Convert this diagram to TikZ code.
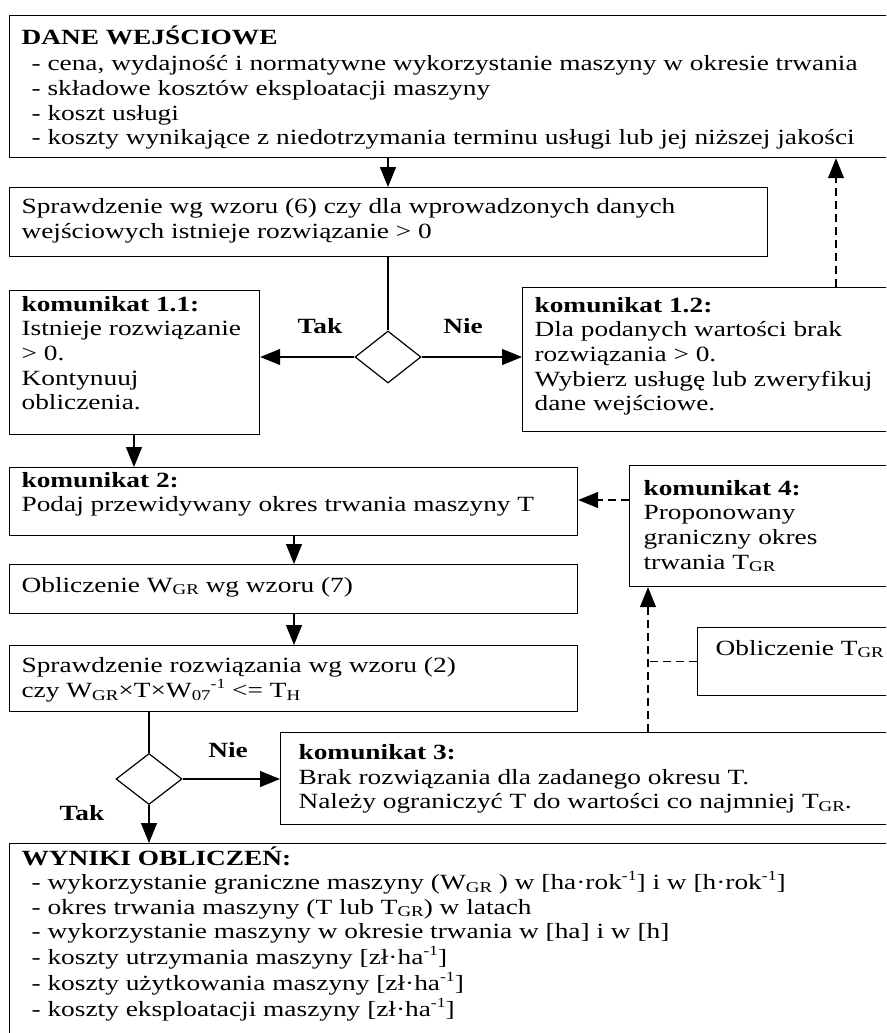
\documentclass[tikz,border=0pt]{standalone}
\usepackage{fontspec}
\setmainfont{Liberation Serif}
\usepackage{graphicx}
\usetikzlibrary{arrows.meta,shapes.geometric}
\newcommand{\tx}[1]{\scalebox{1.26}[1]{\begin{tabular}[t]{@{}l@{}}#1\end{tabular}}}
\newcommand{\lo}[1]{\raisebox{-0.12em}{\fontsize{15}{15}\selectfont #1}}
\newcommand{\hi}[1]{\raisebox{0.42em}{\fontsize{14}{14}\selectfont #1}}
\begin{document}
\begin{tikzpicture}[x=1pt,y=-1pt, line width=1.2pt,
 box/.style={draw, rectangle, inner sep=0, anchor=north west, line width=1.2pt},
 txt/.style={inner sep=0, anchor=base west, font=\fontsize{21.7}{24.7}\selectfont},
 lbl/.style={inner sep=0, anchor=base, font=\fontsize{21.7}{24.7}\selectfont\bfseries},
 dia/.style={draw, diamond, inner sep=0, line width=1.2pt},
 arr/.style={-{Triangle[length=20pt,width=16pt]}},
 dsh/.style={dash pattern=on 8pt off 5pt},
 darr/.style={arr, dsh}]
\useasboundingbox (0,0) rectangle (886,1033);
\fill[white] (0,0) rectangle (886,1033);
\clip (0,0) rectangle (886,1033);

% boxes
\node[box, minimum width=886pt, minimum height=142pt] (dane) at (9,15) {};
\node[box, minimum width=758pt, minimum height=69pt] (spr1) at (9,187) {};
\node[box, minimum width=250pt, minimum height=144pt] (k11) at (9,290) {};
\node[box, minimum width=373pt, minimum height=144pt] (k12) at (522,287) {};
\node[box, minimum width=568pt, minimum height=68pt] (k2) at (9,467) {};
\node[box, minimum width=266pt, minimum height=121pt] (k4) at (629,465) {};
\node[box, minimum width=568pt, minimum height=49pt] (oW) at (9,564) {};
\node[box, minimum width=198pt, minimum height=68pt] (oT) at (697,627) {};
\node[box, minimum width=568pt, minimum height=66pt] (spr2) at (9,645) {};
\node[box, minimum width=615pt, minimum height=92pt] (k3) at (280,732) {};
\node[box, minimum width=886pt, minimum height=210pt] (wyn) at (9,843) {};

% diamonds
\node[dia, minimum width=66pt, minimum height=52pt] (d1) at (388,357) {};
\node[dia, minimum width=66pt, minimum height=51pt] (d2) at (149,779) {};

% texts
\node[txt] (tDh) at (21,45) {\tx{\textbf{DANE WEJŚCIOWE}}};
\node[txt] (tDi) at (31,70.7) {\tx{- cena, wydajność i normatywne wykorzystanie maszyny w okresie trwania\\
- składowe kosztów eksploatacji maszyny\\
- koszt usługi\\
- koszty wynikające z niedotrzymania terminu usługi lub jej niższej jakości}};
\node[txt] (tS1) at (21,213.5) {\tx{Sprawdzenie wg wzoru (6) czy dla wprowadzonych danych\\
wejściowych istnieje rozwiązanie > 0}};
\node[txt] (tK11) at (21,311) {\tx{\textbf{komunikat 1.1:}\\
Istnieje rozwiązanie\\
> 0.\\
Kontynuuj\\
obliczenia.}};
\node[txt] (tK12) at (534,312) {\tx{\textbf{komunikat 1.2:}\\
Dla podanych wartości brak\\
rozwiązania > 0.\\
Wybierz usługę lub zweryfikuj\\
dane wejściowe.}};
\node[txt] (tK2) at (21,487) {\tx{\textbf{komunikat 2:}\\
Podaj przewidywany okres trwania maszyny T}};
\node[txt] (tK4) at (643,495) {\tx{\textbf{komunikat 4:}\\
Proponowany\\
graniczny okres\\
trwania T\lo{GR}}};
\node[txt] (tOW) at (21,592) {\tx{Obliczenie W\lo{GR} wg wzoru (7)}};
\node[txt] (tOT) at (715,655) {\tx{Obliczenie T\lo{GR}}};
\node[txt] (tS2) at (21,672) {\tx{Sprawdzenie rozwiązania wg wzoru (2)\\
czy W\lo{GR}×T×W\lo{07}\hi{-1} <= T\lo{H}}};
\node[txt] (tK3) at (298,759.5) {\tx{\textbf{komunikat 3:}\\
Brak rozwiązania dla zadanego okresu T.\\
Należy ograniczyć T do wartości co najmniej T\lo{GR}.}};
\node[txt] (tWh) at (21,865) {\tx{\textbf{WYNIKI OBLICZEŃ:}}};
\node[txt] (tWi) at (31,889.5) {\tx{- wykorzystanie graniczne maszyny (W\lo{GR} ) w [ha·rok\hi{-1}] i w [h·rok\hi{-1}]\\
- okres trwania maszyny (T lub T\lo{GR}) w latach\\
- wykorzystanie maszyny w okresie trwania w [ha] i w [h]\\
- koszty utrzymania maszyny [zł·ha\hi{-1}]\\
- koszty użytkowania maszyny [zł·ha\hi{-1}]\\
- koszty eksploatacji maszyny [zł·ha\hi{-1}]}};

% labels
\node[lbl] (tak1) at (320,333) {\tx{Tak}};
\node[lbl] (nie1) at (463,333) {\tx{Nie}};
\node[lbl] (nie2) at (228,757) {\tx{Nie}};
\node[lbl] (tak2) at (82,820) {\tx{Tak}};

% helper coordinates
\coordinate (xa) at (134,0);
\coordinate (xb) at (294,0);
\coordinate (xc) at (836,0);
\coordinate (xd) at (648,0);
\coordinate (ya) at (0,500);

% connectors
\draw[arr] (dane.south -| d1) -- (spr1.north -| d1);
\draw (spr1.south -| d1.north) -- (d1.north);
\draw[arr] (d1.west) -- (d1.west -| k11.east);
\draw[arr] (d1.east) -- (d1.east -| k12.west);
\draw[darr] (k12.north -| xc) -- (dane.south -| xc);
\draw[arr] (k11.south -| xa) -- (k2.north -| xa);
\draw[darr] (k4.west |- ya) -- (k2.east |- ya);
\draw[arr] (k2.south -| xb) -- (oW.north -| xb);
\draw[arr] (oW.south -| xb) -- (spr2.north -| xb);
\draw (spr2.south -| d2.north) -- (d2.north);
\draw[arr] (d2.east) -- (d2.east -| k3.west);
\draw[arr] (d2.south) -- (d2.south |- wyn.north);
\draw[darr] (k3.north -| xd) -- (k4.south -| xd);
\draw[dsh] (oT.west) -- (oT.west -| xd);
\end{tikzpicture}
\end{document}
